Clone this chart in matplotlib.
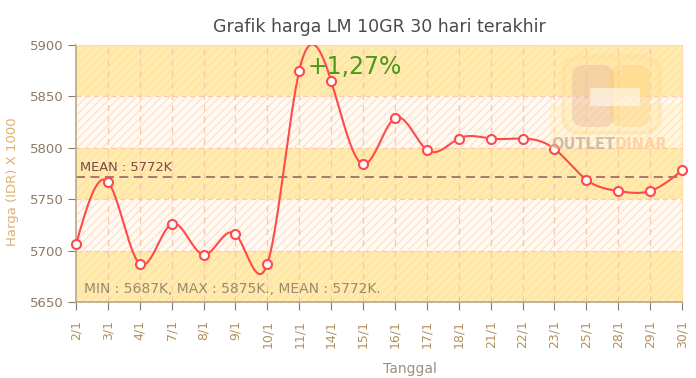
import numpy as np
import matplotlib.pyplot as plt
from matplotlib.patches import FancyBboxPatch, Rectangle

dates = ['2/1', '3/1', '4/1', '7/1', '8/1', '9/1', '10/1', '11/1', '14/1', '15/1',
         '16/1', '17/1', '18/1', '21/1', '22/1', '23/1', '25/1', '28/1', '29/1', '30/1']
prices = [5706, 5767, 5687, 5726, 5696, 5716, 5687, 5875, 5865, 5784,
          5829, 5798, 5809, 5809, 5809, 5799, 5769, 5758, 5758, 5778]
mean_price = 5772
change_label = '+1,27%'
title = 'Grafik harga LM 10GR 30 hari terakhir'


def natural_spline(y, steps=30):
    # natural cubic spline through the points, unit spacing
    y = np.asarray(y, dtype=float)
    n = len(y)
    A = np.zeros((n, n))
    b = np.zeros(n)
    A[0, 0] = A[-1, -1] = 1
    for i in range(1, n - 1):
        A[i, i - 1:i + 2] = [1, 4, 1]
        b[i] = 6 * (y[i + 1] - 2 * y[i] + y[i - 1])
    M = np.linalg.solve(A, b)
    xs, ys = [], []
    for i in range(n - 1):
        t = np.linspace(0, 1, steps, endpoint=False)
        s = ((1 - t) * y[i] + t * y[i + 1]
             + ((1 - t)**3 - (1 - t)) * M[i] / 6 + (t**3 - t) * M[i + 1] / 6)
        xs.append(i + t)
        ys.append(s)
    xs.append([n - 1])
    ys.append([y[-1]])
    return np.concatenate(xs), np.concatenate(ys)


plt.rcParams['hatch.linewidth'] = 0.7

fig = plt.figure(figsize=(6.96, 3.78), dpi=100)
ax = fig.add_axes([76 / 696, 76 / 378, 606 / 696, 257 / 378])
x = np.arange(len(dates))
ax.set_xlim(0, len(dates) - 1)
ax.set_ylim(5650, 5900)

# alternating bands
for lo in range(5650, 5900, 50):
    if ((lo - 5650) // 50) % 2 == 0:
        ax.axhspan(lo, lo + 50, facecolor='#ffebb0', edgecolor='#ffdf98',
                   hatch='////', linewidth=0, zorder=0)
    else:
        ax.axhspan(lo, lo + 50, facecolor='#fffaf4', edgecolor='#ffd8bc',
                   hatch='////', linewidth=0, zorder=0)
for lo in range(5700, 5900, 50):
    ax.axhline(lo, color='#ffc9a8', linestyle=(0, (4, 3)), linewidth=0.9, zorder=1)
for xi in x[1:-1]:
    ax.axvline(xi, color='#f8c8a8', linestyle=(0, (5, 4)), linewidth=0.9, zorder=1)

# mean line
ax.axhline(mean_price, color='#a07070', linestyle=(0, (5, 3)), linewidth=1.3, zorder=2)
ax.text(0.12, mean_price + 3, f'MEAN : {mean_price}K', color='#7a4a4a', fontsize=9.4,
        va='bottom', ha='left', zorder=3)

xs, ys = natural_spline(prices)
ax.plot(xs, ys, color='#ff4a4a', linewidth=1.5, zorder=4)
ax.plot(x, prices, linestyle='none', marker='o', markersize=6.5, markerfacecolor='white',
        markeredgecolor='#ff4a4a', markeredgewidth=1.5, zorder=5, clip_on=False)

ax.text(7.25, 5879, change_label, color='#4a9a1a', fontsize=17, va='center', ha='left', zorder=6)
ax.text(0.25, 5663, f'MIN : {min(prices)}K, MAX : {max(prices)}K., MEAN : {mean_price}K.',
        color='#9a8a70', fontsize=10, va='center', ha='left', zorder=6)

ax.set_xticks(x)
ax.set_xticklabels(dates, rotation=90, fontsize=9, color='#b0905e')
ax.set_yticks(range(5650, 5901, 50))
ax.tick_params(axis='y', labelsize=9.5, labelcolor='#8a7a66', color='#8a7a66', length=6, pad=3)
ax.tick_params(axis='x', color='#8a7a66', length=6, pad=7)
for s in ['top', 'right']:
    ax.spines[s].set_color('#ffd9b0')
for s in ['left', 'bottom']:
    ax.spines[s].set_color('#b8a888')
    ax.spines[s].set_linewidth(1.2)

ax.set_ylabel('Harga (IDR) X 1000', color='#e0b070', fontsize=9.5)
ax.yaxis.set_label_coords(-0.094, 0.47)
ax.set_xlabel('Tanggal', color='#9a9080', fontsize=10)
ax.xaxis.set_label_coords(0.551, -0.233)
ax.set_title(title, color='#4a4a4a', fontsize=12.5, pad=9)

# watermark logo (pixel-like coords: x from 548, y up from 155)
lax = fig.add_axes([548 / 696, 223 / 378, 134 / 696, 105 / 378], zorder=3)
lax.set_xlim(0, 134)
lax.set_ylim(0, 105)
lax.axis('off')
lax.add_patch(Rectangle((2, 7), 132, 45, facecolor='#fff0b0', linewidth=0, alpha=0.35))
lax.add_patch(FancyBboxPatch((15, 22), 97, 76, boxstyle='round,pad=0,rounding_size=18',
                             facecolor='#ffe4a0', edgecolor='#ffd488', linewidth=3, alpha=0.3))
lax.add_patch(FancyBboxPatch((24, 28), 42, 62, boxstyle='round,pad=0,rounding_size=12',
                             facecolor='#e6b49c', linewidth=0, alpha=0.4))
lax.add_patch(FancyBboxPatch((62, 28), 40, 62, boxstyle='round,pad=0,rounding_size=12',
                             facecolor='#ffcc70', linewidth=0, alpha=0.35))
lax.add_patch(Rectangle((42, 49), 50, 18, facecolor='#fffaf0', linewidth=0, alpha=0.6))
lax.text(67, 10, 'OUTLET', color='#c0a898', alpha=0.7, fontsize=10.5, fontweight='bold',
         ha='right', va='center', clip_on=False)
lax.text(67, 10, 'DINAR', color='#ffc890', alpha=0.7, fontsize=10.5, fontweight='bold',
         ha='left', va='center', clip_on=False)

fig.savefig('out.png', dpi=100)
